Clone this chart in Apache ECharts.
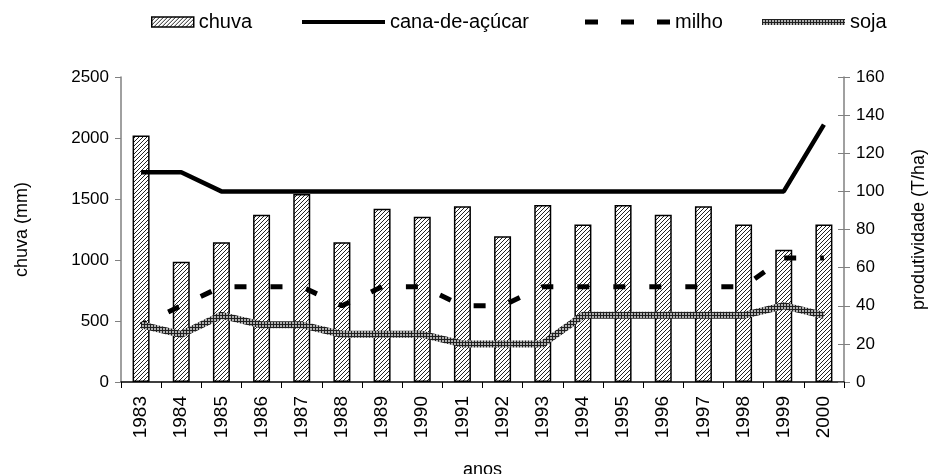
<!DOCTYPE html>
<html>
<head>
<meta charset="utf-8">
<script src="https://cdn.jsdelivr.net/npm/echarts@6/dist/echarts.min.js"></script>
<style>
  html, body { margin: 0; padding: 0; background: #fff; }
  #chart { width: 949px; height: 474px; }
</style>
</head>
<body>
<div id="chart"></div>
<script>
// Anos da série
const anos = ['1983','1984','1985','1986','1987','1988','1989','1990','1991',
              '1992','1993','1994','1995','1996','1997','1998','1999','2000'];

// Chuva anual (mm) - eixo esquerdo
const chuva = [2020, 985, 1145, 1370, 1540, 1145, 1420, 1355, 1440,
               1195, 1450, 1290, 1450, 1370, 1440, 1290, 1085, 1290];

// Produtividade (T/ha) - eixo direito
const cana  = [110, 110, 100, 100, 100, 100, 100, 100, 100,
               100, 100, 100, 100, 100, 100, 100, 100, 135];
const milho = [30, 40, 50, 50, 50, 40, 50, 50, 40,
               40, 50, 50, 50, 50, 50, 50, 65, 65];
const soja  = [30, 25, 35, 30, 30, 25, 25, 25, 20,
               20, 20, 35, 35, 35, 35, 35, 40, 35];

// Escalas dos eixos
const chuvaEixo = { min: 0, max: 2500, interval: 500 };
const prodEixo  = { min: 0, max: 160, interval: 20 };

const FONT = '"Liberation Sans", Arial, sans-serif';

// Hachura diagonal das barras
function hatchPattern() {
  const c = document.createElement('canvas');
  c.width = 4; c.height = 4;
  const g = c.getContext('2d');
  g.fillStyle = '#ffffff';
  g.fillRect(0, 0, 4, 4);
  g.strokeStyle = '#222222';
  g.lineWidth = 1;
  g.beginPath();
  g.moveTo(-1, 5); g.lineTo(5, -1);
  g.moveTo(-3, 3); g.lineTo(3, -3);
  g.moveTo(1, 7); g.lineTo(7, 1);
  g.stroke();
  return { image: c, repeat: 'repeat' };
}

// Textura quadriculada da linha da soja
function gridPattern() {
  const c = document.createElement('canvas');
  c.width = 3; c.height = 3;
  const g = c.getContext('2d');
  g.fillStyle = '#b0b0b0';
  g.fillRect(0, 0, 3, 3);
  g.fillStyle = '#202020';
  g.fillRect(0, 0, 3, 1);
  g.fillRect(0, 0, 1, 3);
  return { image: c, repeat: 'repeat' };
}

const hatch = hatchPattern();
const grade = gridPattern();

// Ícones da legenda
const iconeTraco = 'path://M0,0h13v5h-13z M36,0h13v5h-13z M72,0h13v5h-13z';

const legendText = { fontFamily: FONT, fontSize: 20, color: '#000' };
function legenda(item, left, w, h) {
  return {
    data: [item], left: left, top: 7, itemWidth: w, itemHeight: h,
    itemGap: 0, textStyle: legendText, selectedMode: false
  };
}

const chart = echarts.init(document.getElementById('chart'), null, { renderer: 'canvas' });

const semMilhar = v => String(v);

chart.setOption({
  animation: false,
  backgroundColor: '#fff',
  legend: [
    legenda({ name: 'chuva', icon: 'rect', itemStyle: { color: hatch, borderColor: '#000', borderWidth: 1.5 } }, 146, 42, 10),
    legenda({ name: 'cana-de-açúcar', icon: 'rect', itemStyle: { color: '#000', borderWidth: 0 } }, 297, 83, 4),
    legenda({ name: 'milho', icon: iconeTraco, itemStyle: { color: '#000', borderWidth: 0 } }, 580, 85, 5),
    legenda({ name: 'soja', icon: 'rect', itemStyle: { color: grade, borderWidth: 0 } }, 757, 83, 6)
  ],
  grid: { left: 121, right: 105, top: 77, bottom: 92, outerBoundsMode: 'none', containLabel: false },
  xAxis: {
    type: 'category',
    data: anos,
    name: 'anos',
    nameLocation: 'middle',
    nameGap: 79,
    nameTextStyle: { fontFamily: FONT, fontSize: 18, color: '#000' },
    axisLine: { lineStyle: { color: '#000', width: 1.5 } },
    axisTick: { show: true, interval: 0, length: 6, lineStyle: { color: '#000' } },
    axisLabel: { interval: 0, rotate: 90, margin: 14, fontFamily: FONT, fontSize: 19, color: '#000' }
  },
  yAxis: [
    {
      type: 'value',
      position: 'left',
      min: chuvaEixo.min, max: chuvaEixo.max, interval: chuvaEixo.interval,
      name: 'chuva (mm)',
      nameLocation: 'middle',
      nameRotate: 90,
      nameGap: 90,
      nameTextStyle: { fontFamily: FONT, fontSize: 18, color: '#000' },
      splitLine: { show: false },
      axisLine: { show: true, lineStyle: { color: '#808080', width: 1.5 } },
      axisTick: { show: true, length: 6, lineStyle: { color: '#808080' } },
      axisLabel: { margin: 12, fontFamily: FONT, fontSize: 17, color: '#000', formatter: semMilhar }
    },
    {
      type: 'value',
      position: 'right',
      min: prodEixo.min, max: prodEixo.max, interval: prodEixo.interval,
      name: 'produtividade (T/ha)',
      nameLocation: 'middle',
      nameRotate: 90,
      nameGap: 66,
      nameTextStyle: { fontFamily: FONT, fontSize: 18, color: '#000' },
      splitLine: { show: false },
      axisLine: { show: true, lineStyle: { color: '#808080', width: 1.5 } },
      axisTick: { show: true, length: 6, lineStyle: { color: '#808080' } },
      axisLabel: { margin: 12, fontFamily: FONT, fontSize: 17, color: '#000', formatter: semMilhar }
    },
    {
      // marcas internas do eixo direito (traço cruzado)
      type: 'value',
      position: 'right',
      min: prodEixo.min, max: prodEixo.max, interval: prodEixo.interval,
      splitLine: { show: false },
      axisLine: { show: false },
      axisTick: { show: true, inside: true, length: 6, lineStyle: { color: '#808080' } },
      axisLabel: { show: false }
    }
  ],
  series: [
    {
      name: 'chuva',
      type: 'bar',
      yAxisIndex: 0,
      data: chuva,
      barWidth: 17,
      itemStyle: { color: hatch, borderColor: '#000', borderWidth: 1.5 },
      z: 1
    },
    {
      name: 'cana-de-açúcar',
      type: 'line',
      yAxisIndex: 1,
      data: cana,
      symbol: 'none',
      lineStyle: { color: '#000', width: 4.5 },
      itemStyle: { color: '#000' },
      z: 3
    },
    {
      name: 'milho',
      type: 'line',
      yAxisIndex: 1,
      data: milho,
      symbol: 'none',
      lineStyle: { color: '#000', width: 5, type: [12, 24], dashOffset: 6, cap: 'butt' },
      itemStyle: { color: '#000' },
      z: 3
    },
    {
      name: 'soja',
      type: 'line',
      yAxisIndex: 1,
      data: soja,
      symbol: 'none',
      lineStyle: { color: grade, width: 7 },
      itemStyle: { color: grade },
      z: 4
    }
  ]
});
</script>
</body>
</html>
